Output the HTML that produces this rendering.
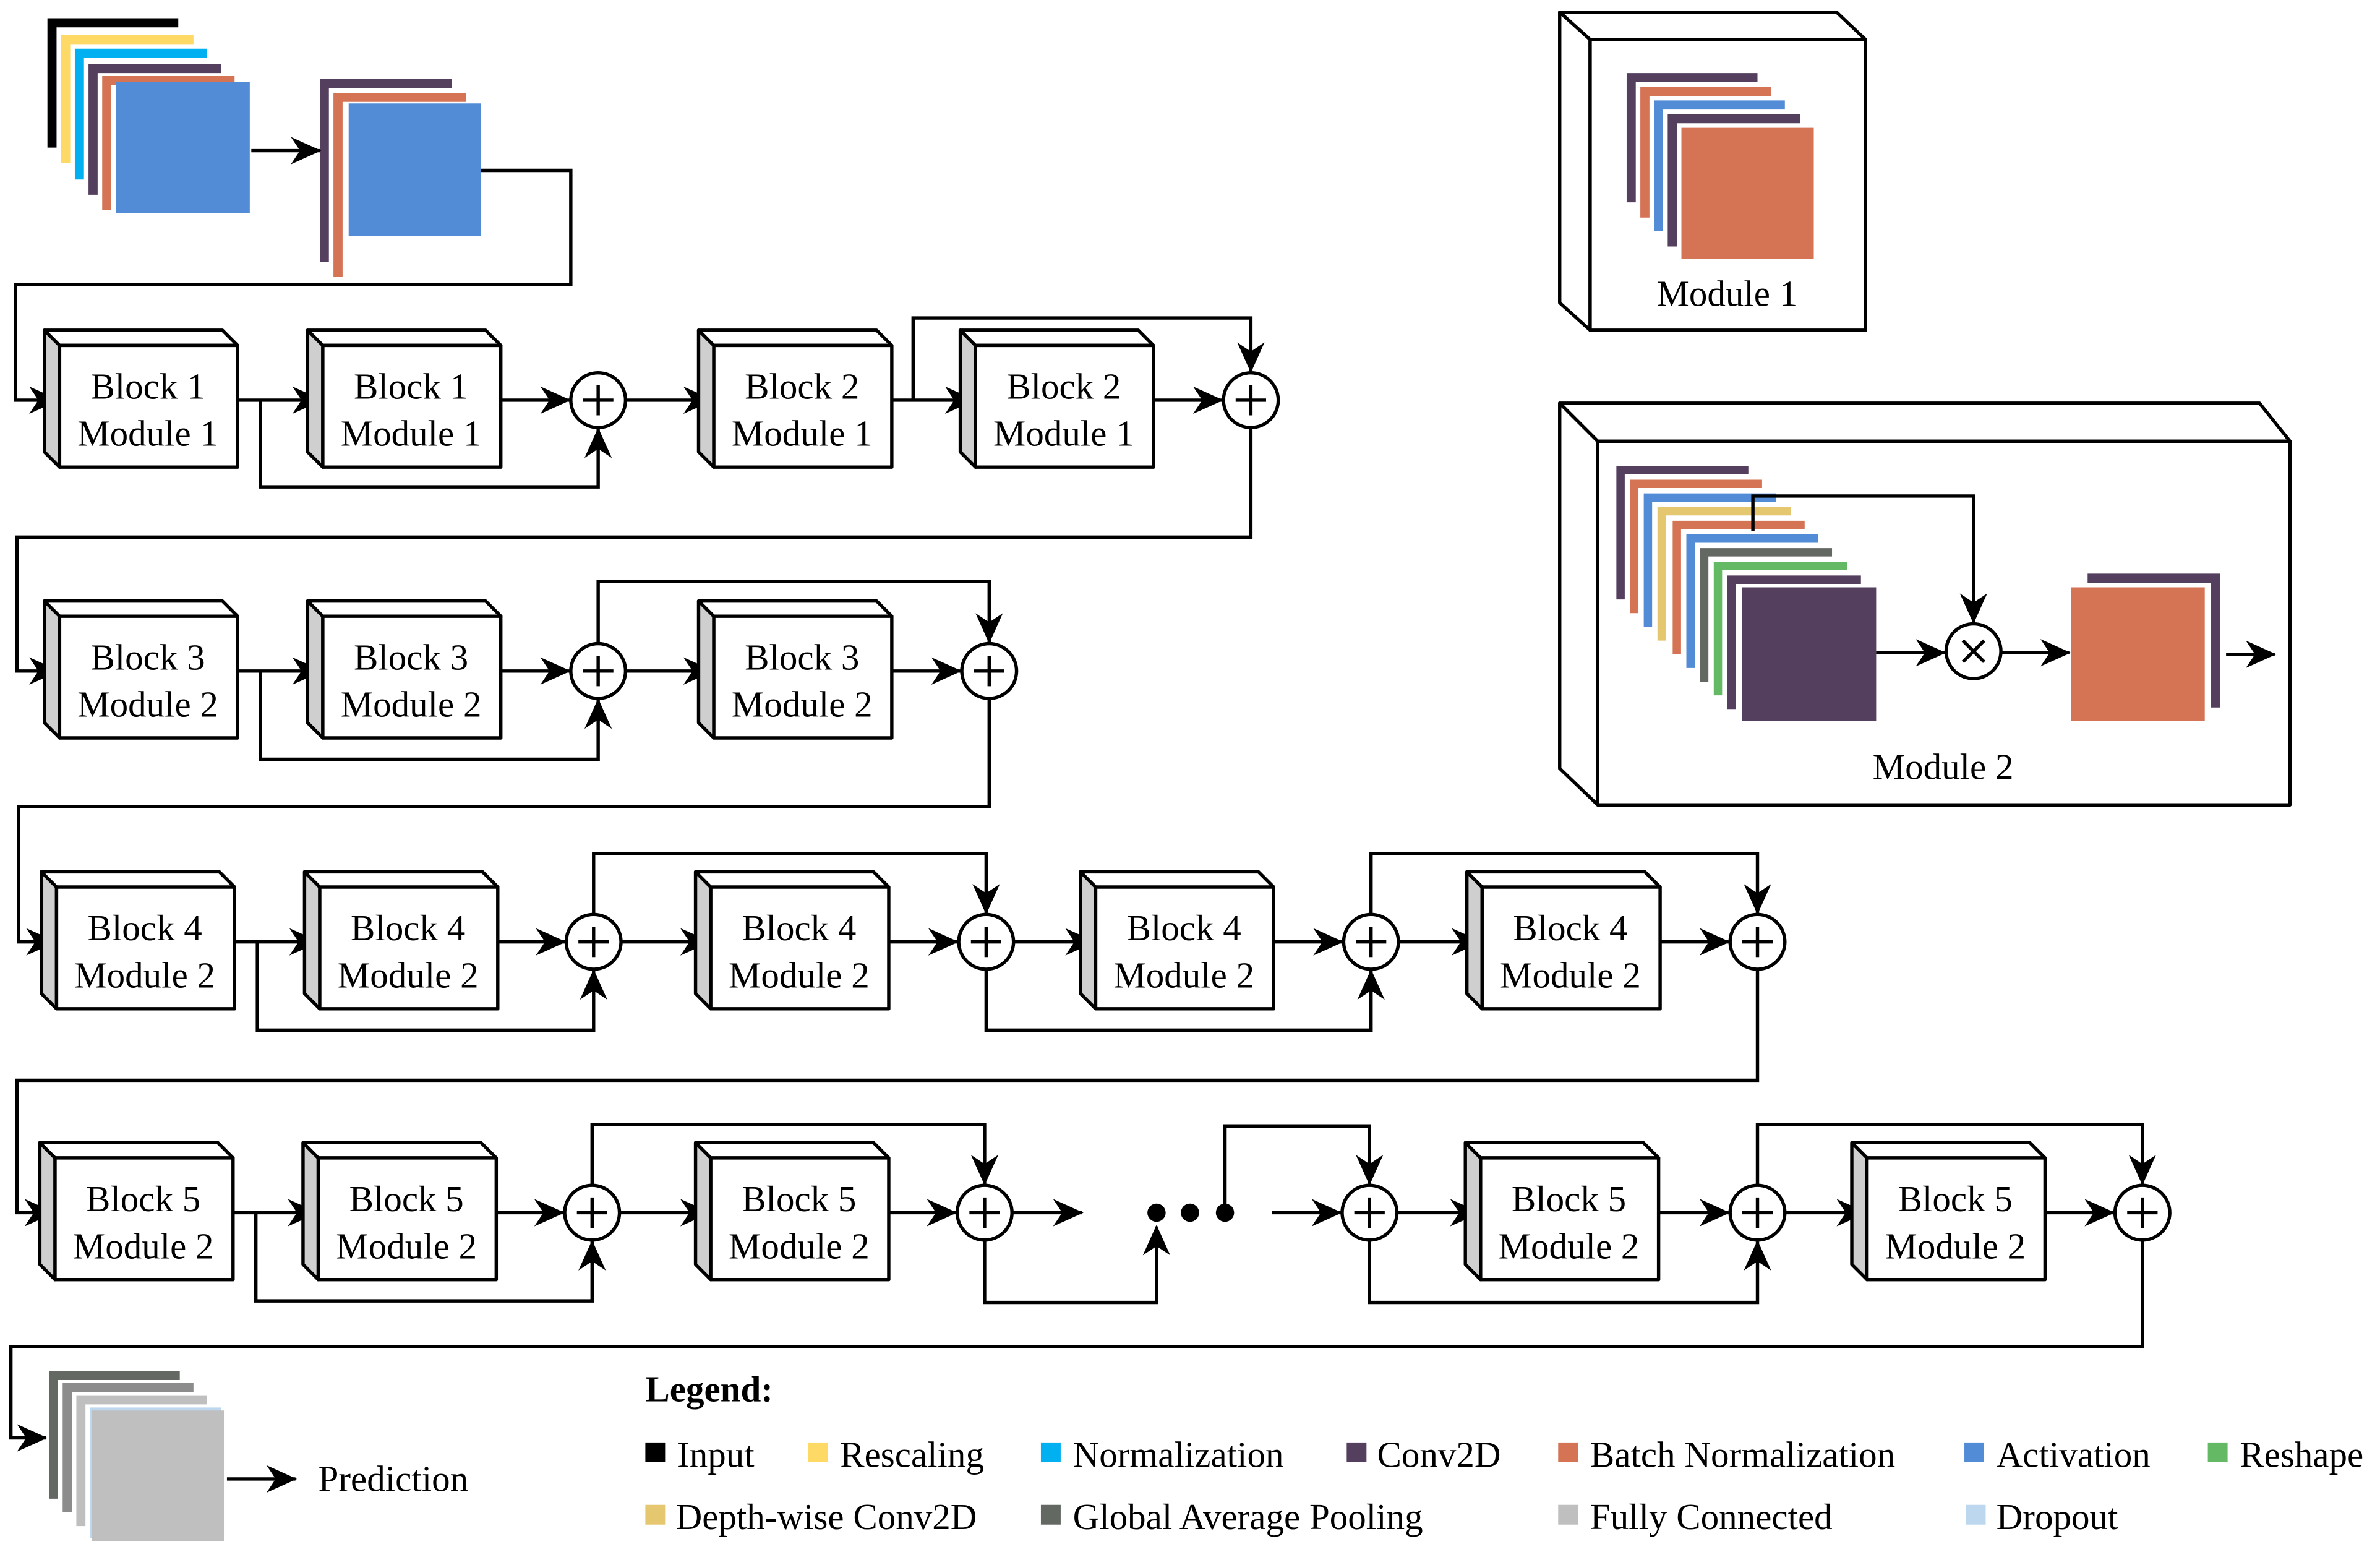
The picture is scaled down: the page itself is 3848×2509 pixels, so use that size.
<!DOCTYPE html>
<html><head><meta charset="utf-8"><style>
html,body{margin:0;padding:0;background:#fff;}
svg{display:block;}
text{font-family:"Liberation Serif",serif;font-size:24px;fill:#000;}
</style></head><body>
<svg width="3848" height="2509" viewBox="0 0 1564 1020" xmlns="http://www.w3.org/2000/svg">
<defs>
<marker id="ar" viewBox="0 0 20 18" refX="19" refY="9" markerWidth="20" markerHeight="18" markerUnits="userSpaceOnUse" orient="auto">
<path d="M0,0 L20,9 L0,18 L6,9 z" fill="#000"/>
</marker>
<g id="blk" stroke="#000" stroke-width="2.2" stroke-linejoin="round">
<polygon points="-10,-10 0,0 0,80 -10,70" fill="#cfcfcf"/>
<polygon points="-10,-10 107,-10 117,0 0,0" fill="#fff"/>
<rect x="0" y="0" width="117" height="80" fill="#fff"/>
</g>
<g id="plus" stroke="#000" stroke-width="2.2" fill="#fff">
<circle cx="0" cy="0" r="18"/>
<line x1="-10" y1="0" x2="10" y2="0"/><line x1="0" y1="-10" x2="0" y2="10"/>
</g>
</defs>

<g>
<path d="M34,97 V15 H117" fill="none" stroke="#000" stroke-width="6"/>
<path d="M43,107 V26 H127" fill="none" stroke="#ffd966" stroke-width="6"/>
<path d="M52,118 V35 H136" fill="none" stroke="#00b0f0" stroke-width="6"/>
<path d="M61,128 V45 H145" fill="none" stroke="#543f5e" stroke-width="6"/>
<path d="M70,138 V53 H154" fill="none" stroke="#d57355" stroke-width="6"/>
<rect x="76" y="54" width="88" height="86" fill="#528cd6"/>
<path d="M213,172 V55 H297" fill="none" stroke="#543f5e" stroke-width="6"/>
<path d="M222,182 V64 H306" fill="none" stroke="#d57355" stroke-width="6"/>
<rect x="229" y="68" width="87" height="87" fill="#528cd6"/>
</g>

<g fill="none" stroke="#000" stroke-width="2.2">
<line x1="165" y1="99" x2="210" y2="99" marker-end="url(#ar)"/>
<polyline points="316,112 375,112 375,187 10,187 10,263 38,263" marker-end="url(#ar)"/>
<line x1="156" y1="263" x2="211" y2="263" marker-end="url(#ar)"/>
<polyline points="171,263 171,320 393,320 393,282" marker-end="url(#ar)"/>
<line x1="329" y1="263" x2="374" y2="263" marker-end="url(#ar)"/>
<line x1="411" y1="263" x2="468" y2="263" marker-end="url(#ar)"/>
<line x1="586" y1="263" x2="640" y2="263" marker-end="url(#ar)"/>
<polyline points="600,263 600,209 822,209 822,244" marker-end="url(#ar)"/>
<line x1="758" y1="263" x2="803" y2="263" marker-end="url(#ar)"/>
<polyline points="822,281 822,353 11,353 11,441 38,441" marker-end="url(#ar)"/>
<line x1="156" y1="441" x2="211" y2="441" marker-end="url(#ar)"/>
<polyline points="171,441 171,499 393,499 393,460" marker-end="url(#ar)"/>
<line x1="329" y1="441" x2="374" y2="441" marker-end="url(#ar)"/>
<polyline points="393,423 393,382 650,382 650,422" marker-end="url(#ar)"/>
<line x1="411" y1="441" x2="468" y2="441" marker-end="url(#ar)"/>
<line x1="586" y1="441" x2="631" y2="441" marker-end="url(#ar)"/>
<polyline points="650,459 650,530 12,530 12,619 36,619" marker-end="url(#ar)"/>
<line x1="154" y1="619" x2="209" y2="619" marker-end="url(#ar)"/>
<polyline points="169,619 169,677 390,677 390,638" marker-end="url(#ar)"/>
<line x1="327" y1="619" x2="371" y2="619" marker-end="url(#ar)"/>
<polyline points="390,601 390,561 648,561 648,600" marker-end="url(#ar)"/>
<line x1="408" y1="619" x2="466" y2="619" marker-end="url(#ar)"/>
<line x1="584" y1="619" x2="629" y2="619" marker-end="url(#ar)"/>
<polyline points="648,637 648,677 901,677 901,638" marker-end="url(#ar)"/>
<line x1="666" y1="619" x2="719" y2="619" marker-end="url(#ar)"/>
<line x1="837" y1="619" x2="882" y2="619" marker-end="url(#ar)"/>
<polyline points="901,601 901,561 1155,561 1155,600" marker-end="url(#ar)"/>
<line x1="919" y1="619" x2="973" y2="619" marker-end="url(#ar)"/>
<line x1="1091" y1="619" x2="1136" y2="619" marker-end="url(#ar)"/>
<polyline points="1155,637 1155,710 11,710 11,797 35,797" marker-end="url(#ar)"/>
<line x1="153" y1="797" x2="208" y2="797" marker-end="url(#ar)"/>
<polyline points="168,797 168,855 389,855 389,816" marker-end="url(#ar)"/>
<line x1="326" y1="797" x2="370" y2="797" marker-end="url(#ar)"/>
<polyline points="389,779 389,739 647,739 647,778" marker-end="url(#ar)"/>
<line x1="407" y1="797" x2="466" y2="797" marker-end="url(#ar)"/>
<line x1="584" y1="797" x2="628" y2="797" marker-end="url(#ar)"/>
<line x1="665" y1="797" x2="711" y2="797" marker-end="url(#ar)"/>
<polyline points="647,815 647,856 760,856 760,806" marker-end="url(#ar)"/>
<polyline points="805,797 805,740 900,740 900,778" marker-end="url(#ar)"/>
<line x1="836" y1="797" x2="881" y2="797" marker-end="url(#ar)"/>
<line x1="918" y1="797" x2="972" y2="797" marker-end="url(#ar)"/>
<polyline points="900,815 900,856 1155,856 1155,816" marker-end="url(#ar)"/>
<line x1="1090" y1="797" x2="1136" y2="797" marker-end="url(#ar)"/>
<line x1="1173" y1="797" x2="1226" y2="797" marker-end="url(#ar)"/>
<polyline points="1155,779 1155,739 1408,739 1408,778" marker-end="url(#ar)"/>
<line x1="1344" y1="797" x2="1389" y2="797" marker-end="url(#ar)"/>
<polyline points="1408,815 1408,885 7,885 7,945 30,945" marker-end="url(#ar)"/>
<line x1="149" y1="972" x2="194" y2="972" marker-end="url(#ar)"/>
</g>
<circle cx="760" cy="797" r="6"/><circle cx="782" cy="797" r="6"/><circle cx="805" cy="797" r="6"/>

<use href="#blk" x="39" y="227"/><use href="#blk" x="212" y="227"/><use href="#blk" x="469" y="227"/><use href="#blk" x="641" y="227"/>
<use href="#blk" x="39" y="405"/><use href="#blk" x="212" y="405"/><use href="#blk" x="469" y="405"/>
<use href="#blk" x="37" y="583"/><use href="#blk" x="210" y="583"/><use href="#blk" x="467" y="583"/><use href="#blk" x="720" y="583"/><use href="#blk" x="974" y="583"/>
<use href="#blk" x="36" y="761"/><use href="#blk" x="209" y="761"/><use href="#blk" x="467" y="761"/><use href="#blk" x="973" y="761"/><use href="#blk" x="1227" y="761"/>

<use href="#plus" x="393" y="263"/><use href="#plus" x="822" y="263"/>
<use href="#plus" x="393" y="441"/><use href="#plus" x="650" y="441"/>
<use href="#plus" x="390" y="619"/><use href="#plus" x="648" y="619"/><use href="#plus" x="901" y="619"/><use href="#plus" x="1155" y="619"/>
<use href="#plus" x="389" y="797"/><use href="#plus" x="647" y="797"/><use href="#plus" x="900" y="797"/><use href="#plus" x="1155" y="797"/><use href="#plus" x="1408" y="797"/>

<g text-anchor="middle">
<text x="97" y="262">Block 1</text><text x="97" y="293">Module 1</text>
<text x="270" y="262">Block 1</text><text x="270" y="293">Module 1</text>
<text x="527" y="262">Block 2</text><text x="527" y="293">Module 1</text>
<text x="699" y="262">Block 2</text><text x="699" y="293">Module 1</text>
<text x="97" y="440">Block 3</text><text x="97" y="471">Module 2</text>
<text x="270" y="440">Block 3</text><text x="270" y="471">Module 2</text>
<text x="527" y="440">Block 3</text><text x="527" y="471">Module 2</text>
<text x="95" y="618">Block 4</text><text x="95" y="649">Module 2</text>
<text x="268" y="618">Block 4</text><text x="268" y="649">Module 2</text>
<text x="525" y="618">Block 4</text><text x="525" y="649">Module 2</text>
<text x="778" y="618">Block 4</text><text x="778" y="649">Module 2</text>
<text x="1032" y="618">Block 4</text><text x="1032" y="649">Module 2</text>
<text x="94" y="796">Block 5</text><text x="94" y="827">Module 2</text>
<text x="267" y="796">Block 5</text><text x="267" y="827">Module 2</text>
<text x="525" y="796">Block 5</text><text x="525" y="827">Module 2</text>
<text x="1031" y="796">Block 5</text><text x="1031" y="827">Module 2</text>
<text x="1285" y="796">Block 5</text><text x="1285" y="827">Module 2</text>
</g>

<path d="M35,985 V904 H118" fill="none" stroke="#636863" stroke-width="6"/>
<path d="M44,994 V912 H127" fill="none" stroke="#8c8c8c" stroke-width="6"/>
<path d="M53,1003 V920 H136" fill="none" stroke="#bfbfbf" stroke-width="6"/>
<path d="M62,1011 V928 H145" fill="none" stroke="#bdd7ee" stroke-width="6"/>
<rect x="60" y="927" width="87" height="86" fill="#bfbfbf"/>
<text x="209" y="980">Prediction</text>

<g stroke="#000" stroke-width="2.2" fill="#fff" stroke-linejoin="round">
<polygon points="1025,8 1207,8 1226,26 1045,26"/>
<polygon points="1025,8 1045,26 1045,217 1025,199"/>
<rect x="1045" y="26" width="181" height="191"/>
</g>
<path d="M1072,133 V51 H1155" fill="none" stroke="#543f5e" stroke-width="6"/>
<path d="M1081,143 V60 H1164" fill="none" stroke="#d57355" stroke-width="6"/>
<path d="M1090,152 V69 H1173" fill="none" stroke="#528cd6" stroke-width="6"/>
<path d="M1099,162 V78 H1183" fill="none" stroke="#543f5e" stroke-width="6"/>
<rect x="1105" y="84" width="87" height="86" fill="#d57355"/>
<text x="1135" y="201" text-anchor="middle">Module 1</text>

<g stroke="#000" stroke-width="2.2" fill="#fff" stroke-linejoin="round">
<polygon points="1025,265 1485,265 1505,290 1050,290"/>
<polygon points="1025,265 1050,290 1050,529 1025,505"/>
<rect x="1050" y="290" width="455" height="239"/>
</g>
<g fill="none" stroke-width="5.5">
<path d="M1065,394 V309 H1149" stroke="#543f5e"/>
<path d="M1074,403 V318 H1158" stroke="#d57355"/>
<path d="M1083,412 V327 H1167" stroke="#528cd6"/>
<path d="M1092,421 V336 H1177" stroke="#e5c76f"/>
<path d="M1102,430 V345 H1186" stroke="#d57355"/>
<path d="M1111,439 V354 H1195" stroke="#528cd6"/>
<path d="M1120,448 V363 H1204" stroke="#636863"/>
<path d="M1129,457 V372 H1214" stroke="#64b964"/>
<path d="M1138,466 V381 H1223" stroke="#543f5e"/>
</g>
<rect x="1145" y="386" width="88" height="88" fill="#543f5e"/>
<g fill="none" stroke="#000" stroke-width="2.2">
<polyline points="1152,349 1152,326 1297,326 1297,409" marker-end="url(#ar)"/>
<line x1="1233" y1="429" x2="1278" y2="429" marker-end="url(#ar)"/>
<line x1="1315" y1="429" x2="1360" y2="429" marker-end="url(#ar)"/>
<line x1="1463" y1="430" x2="1495" y2="430" marker-end="url(#ar)"/>
<circle cx="1297" cy="428" r="18" fill="#fff"/>
<line x1="1290" y1="421" x2="1304" y2="435"/><line x1="1304" y1="421" x2="1290" y2="435"/>
</g>
<rect x="1361" y="386" width="88" height="88" fill="#d57355"/>
<path d="M1372,380 H1456 V465" fill="none" stroke="#543f5e" stroke-width="6"/>
<text x="1277" y="512" text-anchor="middle">Module 2</text>

<text x="424" y="921" font-weight="bold">Legend:</text>
<g>
<rect x="424" y="948" width="13" height="13" fill="#000"/><text x="445" y="964">Input</text>
<rect x="531" y="948" width="13" height="13" fill="#ffd966"/><text x="552" y="964">Rescaling</text>
<rect x="684" y="948" width="13" height="13" fill="#00b0f0"/><text x="705" y="964">Normalization</text>
<rect x="885" y="948" width="13" height="13" fill="#543f5e"/><text x="905" y="964">Conv2D</text>
<rect x="1024" y="948" width="13" height="13" fill="#d57355"/><text x="1045" y="964">Batch Normalization</text>
<rect x="1291" y="948" width="13" height="13" fill="#528cd6"/><text x="1312" y="964">Activation</text>
<rect x="1451" y="948" width="13" height="13" fill="#64b964"/><text x="1472" y="964">Reshape</text>
<rect x="424" y="989" width="13" height="13" fill="#e5c76f"/><text x="444" y="1005">Depth-wise Conv2D</text>
<rect x="684" y="989" width="13" height="13" fill="#636863"/><text x="705" y="1005">Global Average Pooling</text>
<rect x="1024" y="989" width="13" height="13" fill="#bfbfbf"/><text x="1045" y="1005">Fully Connected</text>
<rect x="1292" y="989" width="13" height="13" fill="#bdd7ee"/><text x="1312" y="1005">Dropout</text>
</g>
</svg>
</body></html>
